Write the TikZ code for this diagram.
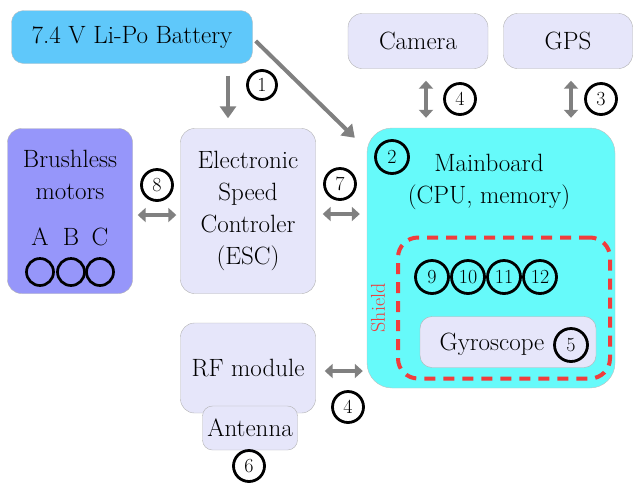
\documentclass[tikz,border=0pt]{standalone}
\usepackage{xcolor}
\usepackage{tikz}
\usetikzlibrary{positioning,arrows.meta,shapes.geometric,calc}

\definecolor{battblue}{RGB}{95,200,250}
\definecolor{lavbox}{RGB}{230,230,250}
\definecolor{motorblue}{RGB}{150,150,250}
\definecolor{boardcyan}{RGB}{102,250,250}
\definecolor{shieldred}{RGB}{240,60,60}
\definecolor{arrgray}{RGB}{128,128,128}

\begin{document}
\begin{tikzpicture}[
        x=1pt, y=-1pt,
        box/.style={draw=black!30, fill=lavbox, rounded corners=14pt, font=\fontsize{25}{32}\selectfont, align=center, inner sep=0pt},
        txt/.style={font=\fontsize{25}{32}\selectfont, align=center, inner sep=0pt},
        num/.style={circle, draw=black, line width=2.8pt, minimum size=29pt, inner sep=0pt, font=\fontsize{20}{20}\selectfont},
        pin/.style ={circle, draw=black, line width=2.7pt, minimum size=27pt, inner sep=0pt},
        link/.style={draw=arrgray, line width=4pt, -{Triangle[length=12pt,width=16pt]}},
        dlink/.style={draw=arrgray, line width=4.5pt, {Triangle[length=8pt,width=14pt]}-{Triangle[length=8pt,width=14pt]}}
    ]
        \useasboundingbox (0,0) rectangle (634,483);
        % top row
        \node[box, fill=battblue, draw=black!25, rounded corners=12pt, minimum width=241pt, minimum height=53pt]
              (battery) at (132,37) {7.4 V Li-Po Battery};
        \node[box, minimum width=140pt, minimum height=55pt] (camera) at (418,41) {Camera};
        \node[box, minimum width=129pt, minimum height=55pt] (gps)    at (568,41) {GPS};
        % middle row
        \node[box, fill=motorblue, draw=black!30, minimum width=125pt, minimum height=165pt]
              (motors) at (70,211) {};
        \node[txt] (motorname) at (70,175) {Brushless\\motors};
        \node[box, minimum width=135pt, minimum height=165pt] (esc) at (248,211)
              {Electronic\\Speed\\Controler\\(ESC)};
        \node[box, fill=boardcyan, draw=black!25, rounded corners=25pt, minimum width=248pt, minimum height=260pt]
              (main) at (491,258) {};
        \node[txt] (maintext) at (489,182) {Mainboard\\(CPU, memory)};
        % motor phases
        \foreach \ph/\px in {A/40, B/71, C/100}{
            \node[txt] (lbl\ph) at (\px,237) {\ph};
            \node[pin] (pin\ph) at (\px,272) {};
        }
        % shield with sensors
        \node[draw=shieldred, line width=4pt, dash pattern=on 11pt off 8pt, rounded corners=20pt,
              minimum width=212pt, minimum height=141pt] (shield) at (504,308) {};
        \node[text=shieldred, rotate=90, font=\fontsize{20}{20}\selectfont, inner sep=0pt]
              (shieldlbl) at (378,308) {Shield};
        \foreach \n/\nx in {9/432, 10/468, 11/504, 12/540}{
            \node[num, minimum size=33pt] (n\n) at (\nx,277) {\n};
        }
        \node[box, rounded corners=12pt, minimum width=176pt, minimum height=51pt] (gyro) at (508,342) {};
        \node[txt] (gyrotext) at (492,344) {Gyroscope};
        % bottom row
        \node[box, minimum width=135pt, minimum height=90pt] (rf) at (248,368) {RF module};
        \node[box, rounded corners=10pt, minimum width=95pt, minimum height=44pt] (antenna) at (250,428) {Antenna};
        % numbered markers
        \node[num] (n1)  at (262,85)  {1};
        \node[num, minimum size=33pt] (n2)  at (392,157) {2};
        \node[num, minimum size=31pt] (n3)  at (601,99)  {3};
        \node[num, minimum size=31pt] (n4)  at (460,99)  {4};
        \node[num, minimum size=31pt] (n4b) at (348,407) {4};
        \node[num, minimum size=33pt] (n5) at (571,345) {5};
        \node[num, minimum size=31pt] (n6)  at (249,466) {6};
        \node[num, minimum size=31pt] (n7)  at (340,184) {7};
        \node[num, minimum size=31pt] (n8)  at (157,185) {8};
        % connectors
        \draw[link] ($(battery.south -| esc.north)+(-20,12)$) -- ($(esc.north)+(-20,-10)$);
        \draw[link] ($(battery.east)+(3,4)$) -- ($(main.north west)+(-12,10)$);
        \draw[dlink] ($(camera.south)+(8,12)$) -- ($(main.north -| camera.south)+(8,-10)$);
        \draw[dlink] ($(gps.south)+(3,12)$) -- ($(main.north -| gps.south)+(3,-10)$);
        \draw[dlink] ($(motors.east)+(5,4)$) -- ($(esc.west)+(-4,4)$);
        \draw[dlink] ($(esc.east)+(7,3)$) -- ($(main.west |- esc.east)+(-7,3)$);
        \draw[dlink] ($(rf.east)+(9,3)$) -- ($(main.west |- rf.east)+(-4,3)$);
\end{tikzpicture}
\end{document}
